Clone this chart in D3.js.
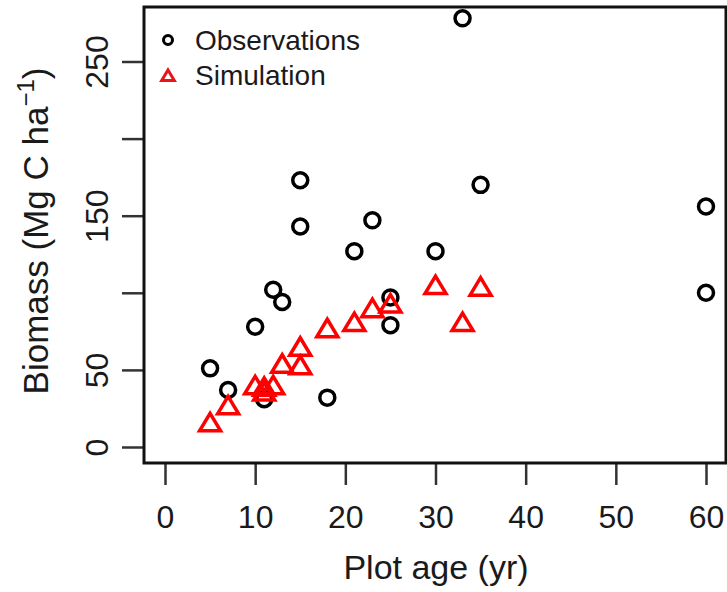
<!DOCTYPE html>
<html>
<head>
<meta charset="utf-8">
<script src="https://cdn.jsdelivr.net/npm/d3@7"></script>
<style>
  body { margin: 0; background: #fff; }
  text { font-family: "Liberation Sans", Arial, Helvetica, sans-serif; fill: #1a1a1a; }
</style>
</head>
<body>
<script>
// observations
var obsAge = [5, 7, 10, 11, 12, 13, 15, 15, 18, 21, 23, 25, 25, 30, 33, 35, 60, 60];
var obsBiomass = [51, 37, 78, 31, 102, 94, 173, 143, 32, 127, 147, 97, 79, 127, 278, 170, 156, 100];

// simulation
var simAge = [5, 7, 10, 11, 11, 12, 13, 15, 15, 18, 21, 23, 25, 30, 33, 35];
var simBiomass = [16, 27, 40, 36, 39, 40, 54, 53, 65, 77, 81, 90, 93, 105, 81, 104];

var xTicks = [0, 10, 20, 30, 40, 50, 60];
var yTicks = [0, 50, 100, 150, 200, 250];
var yLabelled = [0, 50, 150, 250];

var legendNames = ["Observations", "Simulation"];

var svgWidth = 727, svgHeight = 592;
var box = {left: 144, right: 726, top: 7, bottom: 463};

var svg = d3.select('body').append('svg')
  .attr('width', svgWidth)
  .attr('height', svgHeight);

var x = d3.scaleLinear().domain([0, 60]).range([165, 706]);
var y = d3.scaleLinear().domain([0, 250]).range([447, 61.5]);

// axes (ticks point outward from the box)
var xAxis = svg.append('g')
  .attr('transform', 'translate(0,' + box.bottom + ')')
  .call(d3.axisBottom(x).tickValues(xTicks).tickSize(22).tickPadding(20));

var yAxis = svg.append('g')
  .attr('transform', 'translate(' + box.left + ',0)')
  .call(d3.axisLeft(y).tickValues(yTicks).tickSize(22)
    .tickFormat(function(d) { return yLabelled.indexOf(d) >= 0 ? d : ''; }));

[xAxis, yAxis].forEach(function(g) {
  g.select('.domain').remove();
  g.selectAll('.tick line').attr('stroke', '#333').attr('stroke-width', 2.5);
  g.selectAll('.tick text')
    .style('font-family', '"Liberation Sans", Arial, Helvetica, sans-serif')
    .style('font-size', '32px')
    .attr('fill', '#1a1a1a');
});

xAxis.selectAll('.tick text').attr('dy', '0.71em').attr('y', 42);

yAxis.selectAll('.tick text')
  .attr('x', 0).attr('dy', 0)
  .attr('text-anchor', 'middle')
  .attr('transform', 'translate(-36,0) rotate(-90)');

// frame
svg.append('rect')
  .attr('x', box.left).attr('y', box.top)
  .attr('width', box.right - box.left).attr('height', box.bottom - box.top)
  .attr('fill', 'none').attr('stroke', '#111').attr('stroke-width', 3);

// axis titles
svg.append('text')
  .attr('x', 436).attr('y', 579)
  .attr('text-anchor', 'middle')
  .style('font-size', '34px')
  .text('Plot age (yr)');

var yTitle = svg.append('text')
  .attr('transform', 'translate(48,231) rotate(-90)')
  .attr('text-anchor', 'middle')
  .style('font-size', '35px');
yTitle.append('tspan').text('Biomass (Mg C ha');
yTitle.append('tspan').attr('dy', -14).style('font-size', '24px').text('\u22121');
yTitle.append('tspan').attr('dy', 14).text(')');

function trianglePath(s) {
  return 'M0,' + (-s) + 'L' + (s * 1.05) + ',' + (s * 0.75) + 'L' + (-s * 1.05) + ',' + (s * 0.75) + 'Z';
}

// points
var obs = obsAge.map(function(a, i) { return {x: a, y: obsBiomass[i]}; });
var sim = simAge.map(function(a, i) { return {x: a, y: simBiomass[i]}; });

svg.selectAll('circle.obs')
  .data(obs).enter().append('circle')
  .attr('class', 'obs')
  .attr('cx', function(d) { return x(d.x); })
  .attr('cy', function(d) { return y(d.y); })
  .attr('r', 7.5)
  .attr('fill', 'none').attr('stroke', '#000').attr('stroke-width', 3.5);

svg.selectAll('path.sim')
  .data(sim).enter().append('path')
  .attr('class', 'sim')
  .attr('d', trianglePath(10))
  .attr('transform', function(d) { return 'translate(' + x(d.x) + ',' + (y(d.y) + 1) + ')'; })
  .attr('fill', 'none').attr('stroke', '#f00').attr('stroke-width', 3.5);

// legend
var legend = svg.append('g');
legend.append('circle')
  .attr('cx', 168).attr('cy', 40).attr('r', 4.5)
  .attr('fill', 'none').attr('stroke', '#000').attr('stroke-width', 3);
legend.append('path')
  .attr('d', trianglePath(6))
  .attr('transform', 'translate(168,76)')
  .attr('fill', 'none').attr('stroke', '#e8141c').attr('stroke-width', 3);
legend.selectAll('text')
  .data(legendNames).enter().append('text')
  .attr('x', 195)
  .attr('y', function(d, i) { return 50 + i * 35; })
  .style('font-size', '28px')
  .text(function(d) { return d; });
</script>
</body>
</html>
